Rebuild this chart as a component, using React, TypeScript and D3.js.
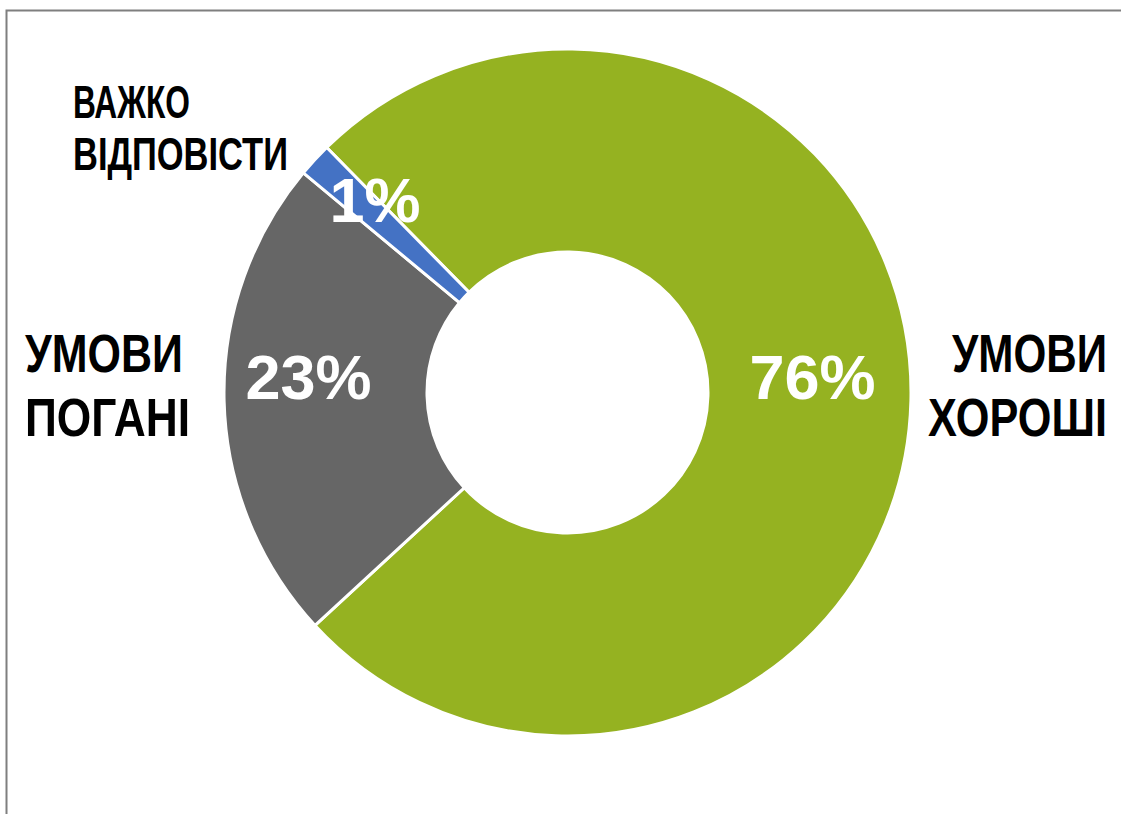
import React from "react";
import * as d3 from "d3";

const categories = ["УМОВИ ХОРОШІ", "УМОВИ ПОГАНІ", "ВАЖКО ВІДПОВІСТИ"];
const values = [75.5, 22.9, 1.6];
const valueLabels = ["76%", "23%", "1%"];
const colors = ["#95B221", "#666666", "#4472C4"];
const categoryLines = [["УМОВИ", "ХОРОШІ"], ["УМОВИ", "ПОГАНІ"], ["ВАЖКО", "ВІДПОВІСТИ"]];

const W = 1121;
const H = 814;
const cx = 567.5;
const cy = 392.5;
const outerR = 343.5;
const innerR = 140.5;
const startDeg = -44.5;
const FONT = "'Liberation Sans', Arial, sans-serif";

// outer category label layout (text boxes placed beside the ring)
const catLayout = [
  { x: 1107, anchor: "end", baselines: [371.7, 435.5], widths: [155, 179], size: 53 },
  { x: 25, anchor: "start", baselines: [371.7, 436], widths: [158, 165], size: 53 },
  { x: 73, anchor: "start", baselines: [118, 170], widths: [117, 215], size: 47 },
];

let ctx: CanvasRenderingContext2D | null = null;
function measure(text: string, size: number): number {
  if (!ctx) ctx = document.createElement("canvas").getContext("2d");
  if (!ctx) return text.length * size * 0.6;
  ctx.font = `bold ${size}px 'Liberation Sans', Arial, sans-serif`;
  return ctx.measureText(text).width || text.length * size * 0.6;
}

export default function App() {
  const start = (startDeg * Math.PI) / 180;
  const pie = d3
    .pie<number>()
    .sort(null)
    .value((d) => d)
    .startAngle(start)
    .endAngle(start + 2 * Math.PI);
  const arcs = pie(values);
  const arc = d3.arc<d3.PieArcDatum<number>>().innerRadius(innerR).outerRadius(outerR);
  const labelArc = d3.arc<d3.PieArcDatum<number>>().innerRadius(252).outerRadius(252);

  return (
    <svg
      width={W}
      height={H}
      style={{ position: "absolute", left: 0, top: 0, background: "#fff" }}
    >
      <rect x={0} y={0} width={W} height={H} fill="#fff" />
      <path
        d={`M6.5,${H} V10.5 H${W}`}
        fill="none"
        stroke="#7f7f7f"
        strokeWidth={2}
      />
      <g transform={`translate(${cx},${cy})`}>
        {arcs.map((a, i) => (
          <path
            key={categories[i]}
            d={arc(a) || ""}
            fill={colors[i]}
            stroke="#ffffff"
            strokeWidth={3}
            strokeLinejoin="miter"
          />
        ))}
        {arcs.map((a, i) => {
          const [x, y] = labelArc.centroid(a);
          return (
            <text
              key={"v" + i}
              x={x - 7}
              y={y}
              textAnchor="middle"
              fill="#ffffff"
              fontFamily={FONT}
              fontWeight="bold"
              fontSize={63}
            >
              {valueLabels[i]}
            </text>
          );
        })}
      </g>
      {categoryLines.map((lines, i) => {
        const L = catLayout[i];
        return (
          <g key={"c" + i}>
            {lines.map((t, j) => {
              const sx = Math.min(1, L.widths[j] / measure(t, L.size));
              return (
                <text
                  key={j}
                  transform={`translate(${L.x},${L.baselines[j]}) scale(${sx},1)`}
                  textAnchor={L.anchor as any}
                  fill="#000000"
                  fontFamily={FONT}
                  fontWeight="bold"
                  fontSize={L.size}
                >
                  {t}
                </text>
              );
            })}
          </g>
        );
      })}
    </svg>
  );
}
